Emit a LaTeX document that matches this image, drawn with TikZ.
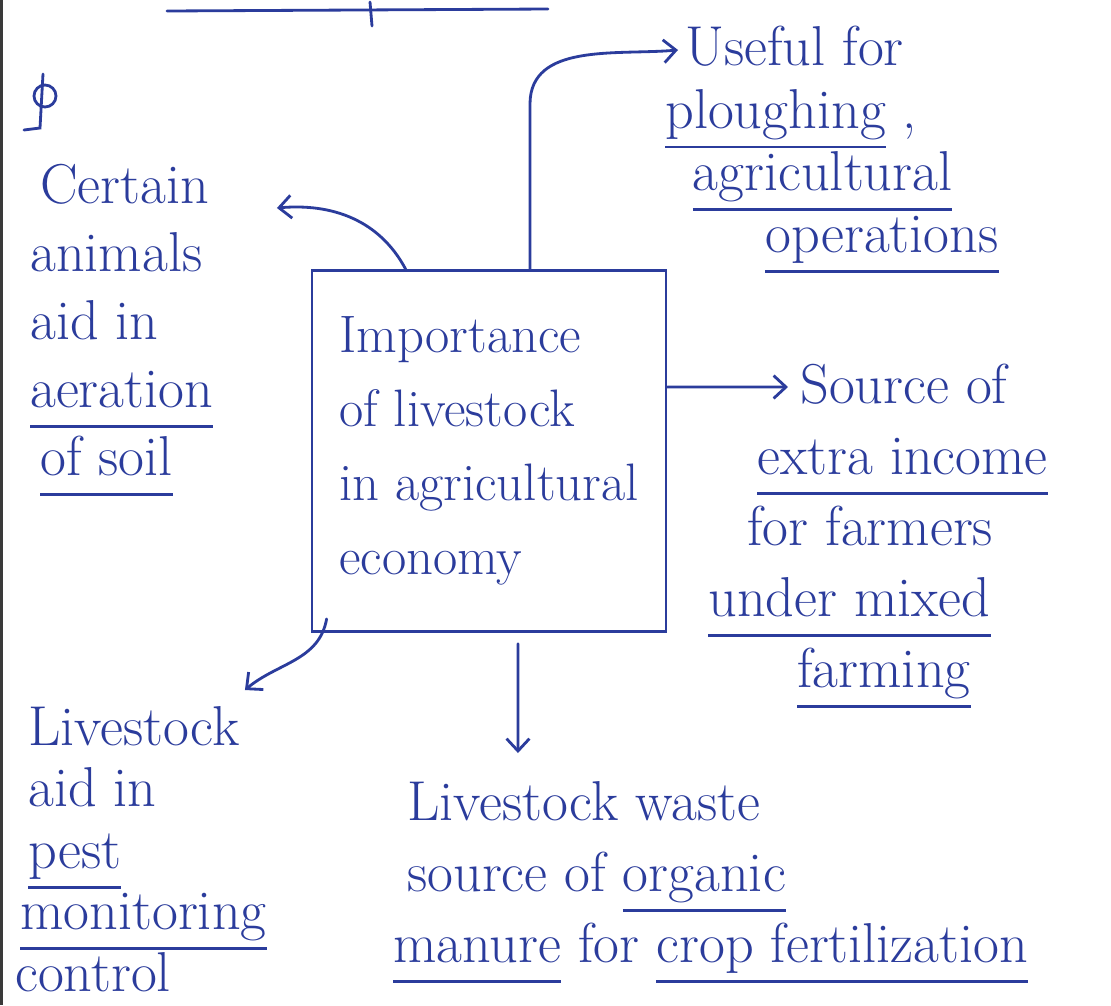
\documentclass[tikz,border=0pt]{standalone}
\usepackage{xcolor}
\usepackage{tikz}
\usetikzlibrary{arrows.meta, positioning}
\definecolor{ink}{HTML}{2B3C9C}
\definecolor{edge}{HTML}{3A3A3A}
% pen-stroke underline, a bit below the baseline
\newcommand{\penline}[1]{\setbox0=\hbox{#1}\rlap{\rule[-0.36em]{\wd0}{1.6pt}}\box0\relax}

\begin{document}
\begin{tikzpicture}[
  x=0.02cm, y=-0.02cm,
  pen/.style={draw=ink, line width=1.6pt, line cap=round},
  note/.style={text=ink, align=left, inner sep=0pt, anchor=north west},
  hub/.style={pen, text=ink, font=\fontsize{30}{42}\selectfont, align=left,
              minimum width=7.08cm, minimum height=7.22cm},
  arr/.style={pen, -{Straight Barb[length=7pt, width=13pt]}}
]
  \useasboundingbox[fill=white] (0,0) rectangle (1111,1005);
  \fill[edge] (0,0) rectangle (3,1005);

  % leftovers of the previous answer
  \draw[pen] (167,11) -- (548,9);
  \draw[pen] (370,2) -- (372,26);
  \draw[pen] (45,96) circle (11);
  \draw[pen] (43,74) -- (40,128) -- (24,130);

  % central topic
  \node[hub] (hub) at (489,451) {Importance\\of livestock\\in agricultural\\economy};

  % branches
  \node[note, font=\fontsize{32}{35.5}\selectfont] (use) at (665,26)
    {\hspace*{0.4cm}Useful for\\\penline{ploughing} ,\\
     \hspace*{0.55cm}\penline{agricultural}\\\hspace*{2cm}\penline{operations}};
  \node[note, font=\fontsize{32}{38.7}\selectfont] (soil) at (30,164)
    {\hspace*{0.2cm}Certain\\animals\\aid in\\\penline{aeration}\\
     \hspace*{0.2cm}\penline{of soil}};
  \node[note, font=\fontsize{32}{40.4}\selectfont] (income) at (708,364)
    {\hspace*{1.84cm}Source of\\\hspace*{0.98cm}\penline{extra income}\\
     \hspace*{0.78cm}for farmers\\\penline{under mixed}\\
     \hspace*{1.78cm}\penline{farming}};
  \node[note, font=\fontsize{32}{35}\selectfont] (pest) at (15,706)
    {\hspace*{0.26cm}Livestock\\\hspace*{0.26cm}aid in\\
     \hspace*{0.26cm}\penline{pest}\\\hspace*{0.1cm}\penline{monitoring}\\control};
  \node[note, font=\fontsize{32}{40.4}\selectfont] (manure) at (393,781)
    {\hspace*{0.28cm}Livestock waste\\\hspace*{0.28cm}source of \penline{organic}\\
     \penline{manure} for \penline{crop fertilization}};

  % connectors
  \draw[arr] ([xshift=0.82cm]hub.north) -- ++(0,-165)
    to[out=90, in=185] ([xshift=0.26cm, yshift=-0.48cm]use.north west);
  \draw[arr] ([xshift=1.9cm]hub.north west)
    to[out=118, in=5] ([xshift=4.94cm, yshift=-0.88cm]soil.north west);
  \draw[arr] ([yshift=1.28cm]hub.east) -- ([xshift=1.6cm, yshift=-0.46cm]income.north west);
  \draw[arr] ([xshift=0.32cm, yshift=0.28cm]hub.south west)
    to[out=-100, in=40] ([xshift=4.6cm, yshift=0.32cm]pest.north west);
  \draw[arr] ([xshift=0.58cm, yshift=-0.22cm]hub.south)
    -- ([xshift=2.5cm, yshift=0.56cm]manure.north west);
\end{tikzpicture}
\end{document}
